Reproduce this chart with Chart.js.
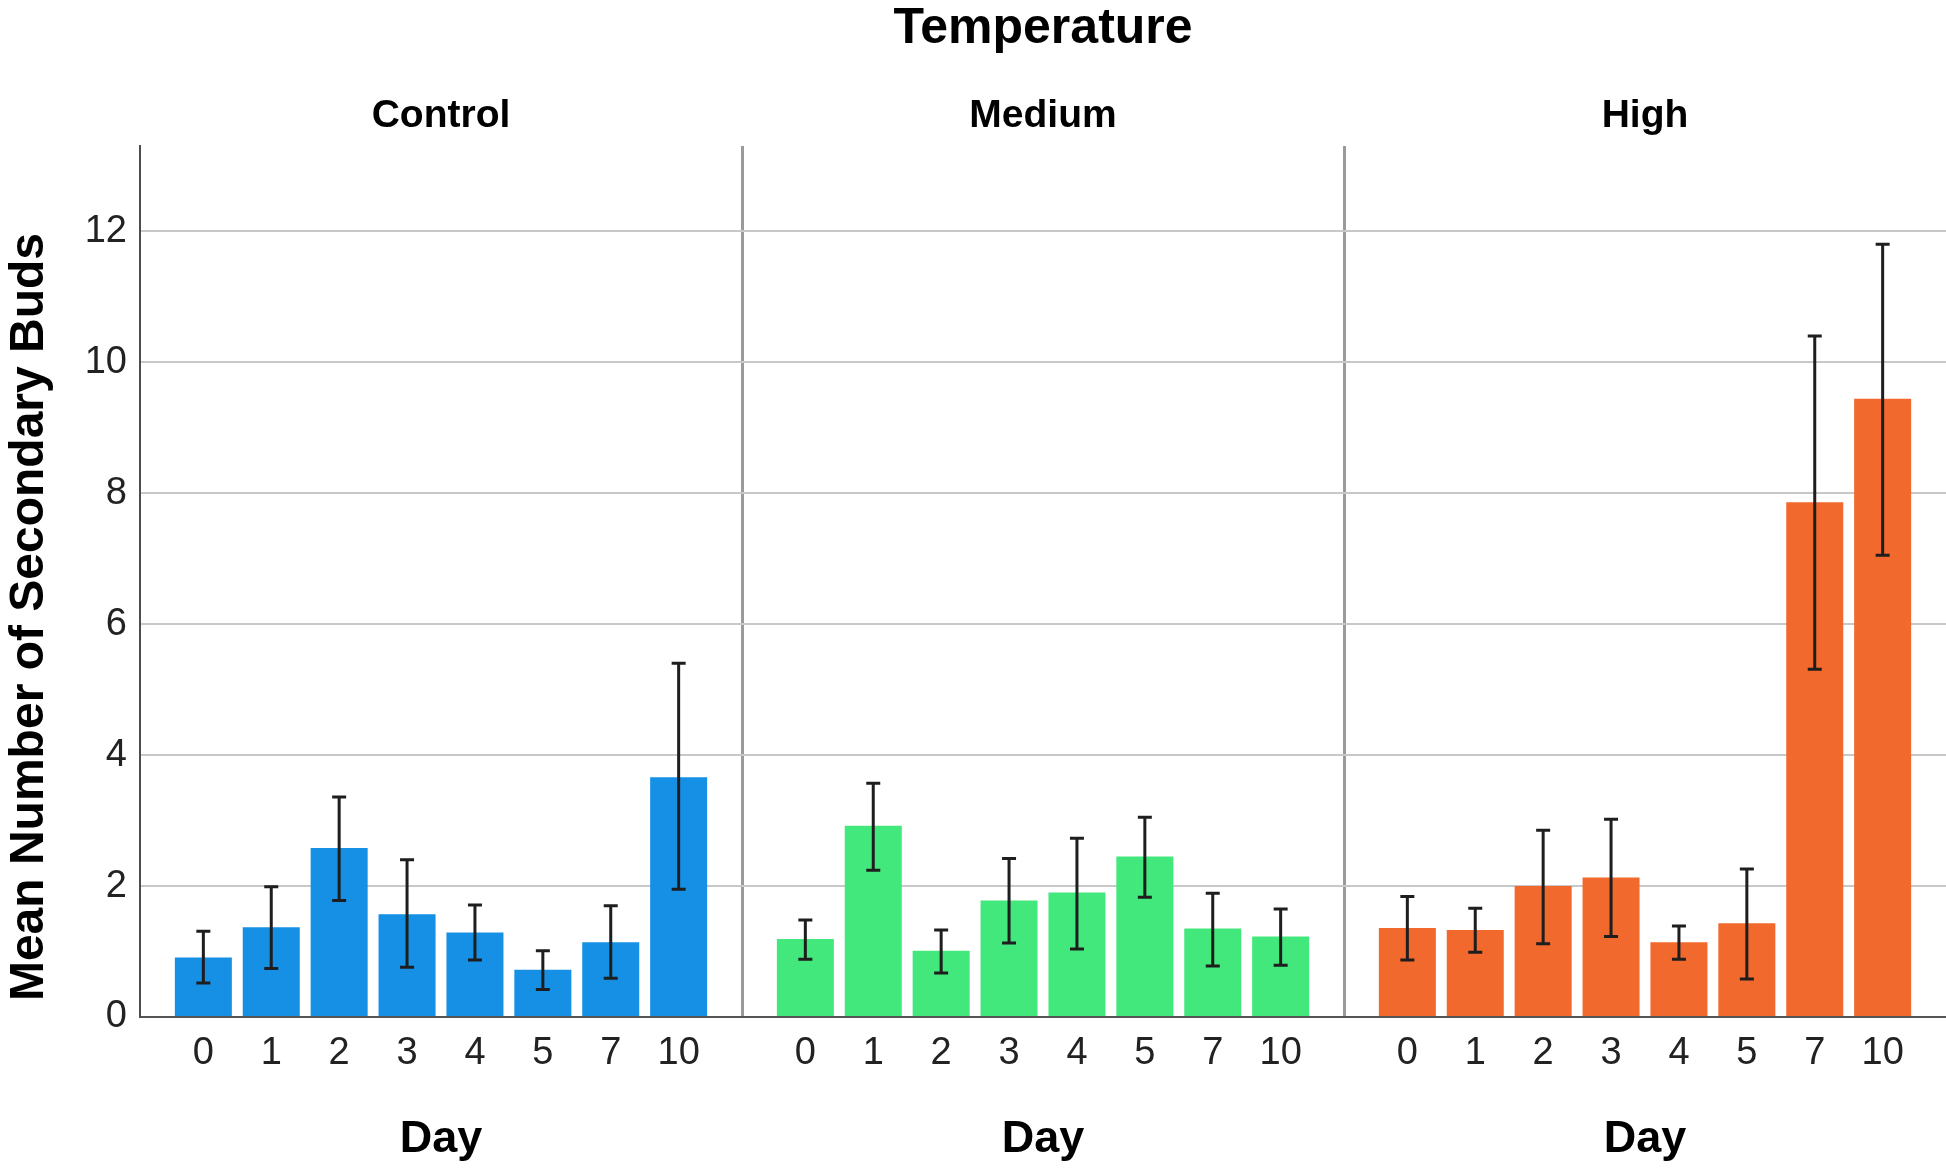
<!DOCTYPE html>
<html>
<head>
<meta charset="utf-8">
<script src="https://cdn.jsdelivr.net/npm/chart.js@4/dist/chart.umd.min.js"></script>
<style>
  html, body { margin: 0; padding: 0; background: #fff; }
  canvas { display: block; }
</style>
</head>
<body>
<canvas id="c" width="1946" height="1168"></canvas>
<script>
/* Mean number of secondary buds by day, split by temperature */
const FONT = "'Liberation Sans', Arial, sans-serif";

const DAYS = ["0", "1", "2", "3", "4", "5", "7", "10"];
const PANELS = ["Control", "Medium", "High"];
const COLORS = ["#1590e5", "#43e87c", "#f2692d"];

const controlMean = [0.91, 1.37, 2.58, 1.57, 1.29, 0.72, 1.14, 3.66];
const controlLo   = [0.52, 0.74, 1.78, 0.76, 0.87, 0.42, 0.59, 1.95];
const controlHi   = [1.31, 1.99, 3.36, 2.40, 1.71, 1.01, 1.70, 5.40];

const mediumMean = [1.19, 2.92, 1.01, 1.78, 1.90, 2.45, 1.35, 1.23];
const mediumLo   = [0.88, 2.24, 0.67, 1.13, 1.04, 1.83, 0.78, 0.79];
const mediumHi   = [1.48, 3.57, 1.33, 2.42, 2.73, 3.05, 1.89, 1.65];

const highMean = [1.36, 1.33, 2.00, 2.13, 1.14, 1.43, 7.86, 9.44];
const highLo   = [0.87, 0.99, 1.12, 1.23, 0.88, 0.58, 5.31, 7.05];
const highHi   = [1.84, 1.66, 2.85, 3.02, 1.39, 2.26, 10.40, 11.80];

const MEANS = [controlMean, mediumMean, highMean];
const LOWS = [controlLo, mediumLo, highLo];
const HIGHS = [controlHi, mediumHi, highHi];

// panel width in bar slots (8 bars + a bit of margin each side)
const PAD = 0.433;
const PANEL_W = DAYS.length + 2 * PAD;
const X0 = -0.5 - PAD;
const xOf = (p, i) => p * PANEL_W + i;

// tick list: day positions + panel separators
const TICK_VALS = [], TICK_LABELS = [], TICK_SEP = [];
PANELS.forEach((_, p) => {
  if (p > 0) { TICK_VALS.push(X0 + p * PANEL_W); TICK_LABELS.push(""); TICK_SEP.push(true); }
  DAYS.forEach((d, i) => { TICK_VALS.push(xOf(p, i)); TICK_LABELS.push(d); TICK_SEP.push(false); });
});

const datasets = PANELS.map((name, p) => ({
  label: name,
  data: MEANS[p].map((v, i) => ({ x: xOf(p, i), y: v })),
  backgroundColor: COLORS[p],
  borderWidth: 0,
  grouped: false,
  categoryPercentage: 1,
  barPercentage: 0.9,
}));

const errorBars = {
  id: "errorBars",
  afterDatasetsDraw(chart) {
    const ctx = chart.ctx, y = chart.scales.y;
    ctx.save();
    ctx.strokeStyle = "#1e1e1e";
    ctx.lineWidth = 3;
    PANELS.forEach((_, p) => {
      chart.getDatasetMeta(p).data.forEach((bar, i) => {
        const top = y.getPixelForValue(HIGHS[p][i]);
        const bot = y.getPixelForValue(LOWS[p][i]);
        ctx.beginPath();
        ctx.moveTo(bar.x, top); ctx.lineTo(bar.x, bot);
        ctx.moveTo(bar.x - 7, top); ctx.lineTo(bar.x + 7, top);
        ctx.moveTo(bar.x - 7, bot); ctx.lineTo(bar.x + 7, bot);
        ctx.stroke();
      });
    });
    ctx.restore();
  },
};

const labels = {
  id: "labels",
  afterDraw(chart) {
    const ctx = chart.ctx, x = chart.scales.x;
    ctx.save();
    ctx.fillStyle = "#000";
    ctx.textAlign = "center";
    ctx.textBaseline = "alphabetic";
    ctx.font = `bold 50px ${FONT}`;
    ctx.fillText("Temperature", (chart.chartArea.left + chart.chartArea.right) / 2, 43);
    PANELS.forEach((name, p) => {
      const cx = x.getPixelForValue(xOf(p, (DAYS.length - 1) / 2));
      ctx.font = `bold 39px ${FONT}`;
      ctx.fillText(name, cx, 127);
      ctx.font = `bold 45px ${FONT}`;
      ctx.fillText("Day", cx, 1152);
    });
    ctx.translate(43, 617);
    ctx.rotate(-Math.PI / 2);
    ctx.font = `bold 48px ${FONT}`;
    ctx.fillText("Mean Number of Secondary Buds", 0, 0);
    ctx.restore();
  },
};

new Chart(document.getElementById("c"), {
  type: "bar",
  data: { datasets },
  options: {
    responsive: false,
    animation: false,
    devicePixelRatio: 1,
    layout: { padding: { top: 146, left: 0, right: 0, bottom: 0 } },
    plugins: { legend: { display: false }, tooltip: { enabled: false }, title: { display: false } },
    scales: {
      x: {
        type: "linear",
        offset: false,
        min: X0,
        max: X0 + PANELS.length * PANEL_W,
        afterBuildTicks(scale) {
          scale.ticks = TICK_VALS.map((v) => ({ value: v }));
        },
        afterFit(scale) { scale.height = 151; },
        ticks: {
          autoSkip: false,
          maxRotation: 0,
          padding: 14,
          color: "#222",
          font: { family: FONT, size: 38 },
          callback: (v, i) => TICK_LABELS[i],
        },
        grid: {
          offset: false,
          drawTicks: false,
          lineWidth: 3,
          color: (c) => (TICK_SEP[c.index] ? "#9a9a9a" : "rgba(0,0,0,0)"),
        },
        border: { display: true, color: "#555", width: 2 },
      },
      y: {
        min: 0,
        max: 13.3,
        afterFit(scale) { scale.width = 140; },
        ticks: {
          stepSize: 2,
          includeBounds: false,
          padding: 13,
          color: "#222",
          font: { family: FONT, size: 38 },
        },
        grid: { drawTicks: false, color: "#c8c8c8", lineWidth: 2 },
        border: { display: true, color: "#4d4d4d", width: 2 },
      },
    },
  },
  plugins: [errorBars, labels],
});
</script>
</body>
</html>
